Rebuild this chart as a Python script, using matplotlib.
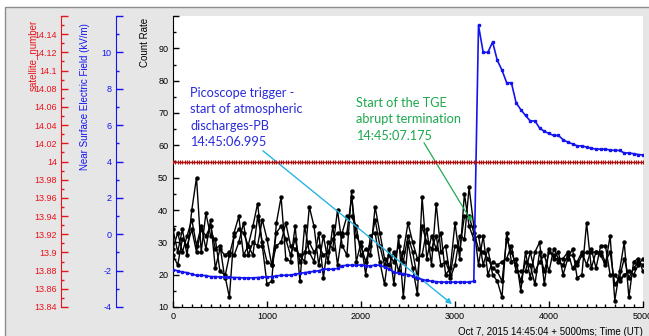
import numpy as np
import matplotlib
matplotlib.use("Agg")
import matplotlib.pyplot as plt
from matplotlib.patches import Rectangle
from matplotlib.ticker import MultipleLocator, FuncFormatter

plt.rcParams["font.family"] = ["Liberation Sans", "DejaVu Sans"]

# time after 14:45:04, ms (50 ms bins)
time_ms = np.arange(0, 5001, 50)

# count rates from the three detector channels
count_a = [34, 27, 34, 26, 40, 50, 27, 39, 32, 31, 21, 20, 13, 33, 38, 26, 29, 35, 42, 29, 17, 18, 36, 44, 25,
           24, 35, 18, 35, 27, 24, 33, 19, 30, 28, 40, 29, 26, 46, 24, 30, 20, 32, 33, 24, 17, 28, 17, 32, 13, 30,
           22, 14, 44, 25, 32, 28, 33, 20, 22, 36, 25, 45, 35, 31, 32, 23, 28, 20, 18, 13, 33, 24, 25, 15, 27,
           19, 27, 30, 17, 28, 25, 27, 20, 25, 28, 19, 20, 36, 22, 27, 26, 23, 32, 12, 21, 30, 13, 24, 25, 21]
count_b = [28, 33, 27, 32, 37, 29, 35, 28, 37, 22, 28, 26, 27, 26, 30, 36, 26, 30, 29, 37, 31, 23, 29, 30, 36,
           29, 28, 26, 24, 41, 35, 23, 32, 24, 35, 23, 33, 38, 38, 35, 26, 28, 26, 41, 33, 25, 23, 27, 21, 27, 36,
           30, 25, 26, 34, 23, 42, 27, 29, 19, 23, 32, 31, 47, 35, 23, 32, 20, 24, 23, 24, 25, 29, 21, 21, 21,
           27, 21, 24, 26, 21, 28, 25, 25, 27, 22, 24, 27, 23, 28, 22, 29, 29, 20, 20, 18, 20, 21, 20, 23, 25]
count_c = [26, 23, 31, 29, 34, 27, 34, 32, 35, 28, 29, 19, 26, 32, 34, 33, 29, 26, 38, 30, 24, 23, 33, 35, 31,
           26, 31, 24, 27, 30, 27, 29, 26, 27, 31, 33, 32, 33, 44, 32, 29, 24, 29, 37, 29, 23, 26, 24, 29, 24, 32,
           27, 19, 35, 30, 28, 32, 23, 24, 20, 29, 28, 38, 38, 33, 28, 27, 25, 22, 21, 18, 31, 27, 23, 18, 24,
           23, 17, 27, 21, 27, 26, 24, 23, 26, 26, 23, 26, 27, 27, 27, 27, 24, 27, 17, 19, 25, 19, 22, 24, 23]

# near surface electric field, kV/m
field_kvm = [-1.95, -2.01, -2.08, -2.11, -2.19, -2.26, -2.26, -2.27, -2.33, -2.33, -2.35, -2.36, -2.36, -2.38,
             -2.38, -2.40, -2.40, -2.40, -2.38, -2.36, -2.35, -2.33, -2.29, -2.26, -2.26, -2.24, -2.20, -2.15,
             -2.11, -2.08, -2.04, -2.01, -1.92, -1.92, -1.92, -1.88, -1.74, -1.70, -1.70, -1.70, -1.69, -1.72,
             -1.74, -1.70, -1.70, -1.81, -1.92, -2.08, -2.15, -2.17, -2.22, -2.31, -2.40, -2.49, -2.54, -2.58,
             -2.61, -2.63, -2.63, -2.63, -2.63, -2.63, -2.63, -2.63, -2.58,
             11.48, 10.00, 10.00, 10.57, 9.56, 9.02, 8.33, 8.33, 7.23, 6.85, 6.53, 6.23, 6.23, 5.84, 5.66,
             5.54, 5.43, 5.43, 5.20, 5.06, 4.97, 4.86, 4.86, 4.79, 4.73, 4.68, 4.68, 4.68, 4.63, 4.61, 4.61,
             4.47, 4.47, 4.43, 4.38, 4.36]

# satellite number (25 ms samples)
sat_time = np.arange(0, 5001, 25)
sat_number = np.full(len(sat_time), 14.0)

RED = "#e8141c"
BLUE = "#1414f0"

fig = plt.figure(figsize=(6.49, 3.36), dpi=100, facecolor="white")
fig.patches.append(Rectangle((5 / 649, -0.01), 1.0, 1 - 7 / 336 + 0.01, transform=fig.transFigure,
                             facecolor="#e6e6e6", edgecolor="#8c8c8c", lw=1.0, zorder=-1))

ax = fig.add_axes([173 / 649, 29 / 336, 470 / 649, 291 / 336])
ax.set_facecolor("white")
ax_e = ax.twinx()
ax_s = ax.twinx()

for a, pos, col in [(ax_e, -0.1213, BLUE), (ax_s, -0.2383, RED)]:
    a.spines["right"].set_visible(False)
    a.spines["top"].set_visible(False)
    a.spines["bottom"].set_visible(False)
    a.spines["left"].set_visible(True)
    a.spines["left"].set_position(("axes", pos))
    a.spines["left"].set_color(col)
    a.yaxis.set_ticks_position("left")
    a.yaxis.set_label_position("left")
    a.tick_params(axis="y", which="both", direction="in", colors=col, labelsize=6.5, pad=3, width=1)
    a.tick_params(axis="y", which="major", length=5)
    a.tick_params(axis="y", which="minor", length=2.5)

for side in ["top", "right"]:
    ax.spines[side].set_visible(False)

# black count rate channels
for series in [count_a, count_b, count_c]:
    ax.plot(time_ms, series, color="black", lw=1.0, marker="o", ms=2.2, zorder=3)

ax.set_xlim(0, 5000)
ax.set_ylim(10, 100)
ax.xaxis.set_major_locator(MultipleLocator(1000))
ax.xaxis.set_minor_locator(MultipleLocator(100))
ax.yaxis.set_major_locator(MultipleLocator(10))
ax.yaxis.set_minor_locator(MultipleLocator(5))
ax.yaxis.set_major_formatter(FuncFormatter(lambda v, _: "" if v >= 100 else f"{v:g}"))
ax.tick_params(which="both", direction="in", labelsize=6.5, width=1)
ax.tick_params(which="major", length=4)
ax.tick_params(which="minor", length=2)
ax.set_ylabel("Count Rate", fontsize=7, loc="top")
ax.yaxis.set_label_coords(-0.048, 0.993)
ax.set_xlabel("Oct 7, 2015 14:45:04 + 5000ms; Time (UT)", fontsize=7, loc="right")
ax.xaxis.set_label_coords(1.0, -0.07)

# electric field
ax_e.plot(time_ms, field_kvm, color=BLUE, lw=1.2, marker="s", ms=1.8, zorder=4)
ax_e.set_ylim(-4, 12)
ax_e.yaxis.set_major_locator(MultipleLocator(2))
ax_e.yaxis.set_minor_locator(MultipleLocator(1))
ax_e.yaxis.set_major_formatter(FuncFormatter(lambda v, _: "" if v >= 12 else f"{v:g}"))
ax_e.set_ylabel("Near Surface Electric Field (kV/m)", fontsize=7, color=BLUE, loc="top")
ax_e.yaxis.set_label_coords(-0.177, 0.976)

# satellite number
ax_s.plot(sat_time, sat_number, color="#b01010", lw=1.0, marker="+", ms=3, mew=0.8, zorder=2)
ax_s.set_ylim(13.84, 14.16)
ax_s.yaxis.set_major_locator(MultipleLocator(0.02))
ax_s.yaxis.set_minor_locator(MultipleLocator(0.01))
ax_s.yaxis.set_major_formatter(FuncFormatter(lambda v, _: "" if v >= 14.155 else f"{round(v, 2):g}"))
ax_s.set_ylabel("satellite_number", fontsize=7, color=RED, loc="top")
ax_s.yaxis.set_label_coords(-0.287, 0.986)

# event annotations
ax.text(181, 78.1, "Picoscope trigger -\nstart of atmospheric\ndischarges-PB\n14:45:06.995",
        color="#2b2bdc", fontsize=9.2, family="Lato", va="top", ha="left", linespacing=1.45)
ax.annotate("", xy=(2968, 10.9), xytext=(957, 58.3),
            arrowprops=dict(arrowstyle="-|>", color="#26b5e5", lw=1.0, mutation_scale=8,
                            shrinkA=0, shrinkB=0))
ax.text(1947, 75.0, "Start of the TGE\nabrupt termination\n14:45:07.175",
        color="#1ea84f", fontsize=9.2, family="Lato", va="top", ha="left", linespacing=1.45)
ax.annotate("", xy=(3178, 36.4), xytext=(2670, 60.8),
            arrowprops=dict(arrowstyle="-|>", color="#22aa55", lw=0.9, mutation_scale=7,
                            shrinkA=0, shrinkB=0))

fig.savefig("out.png", dpi=100, facecolor=fig.get_facecolor())
